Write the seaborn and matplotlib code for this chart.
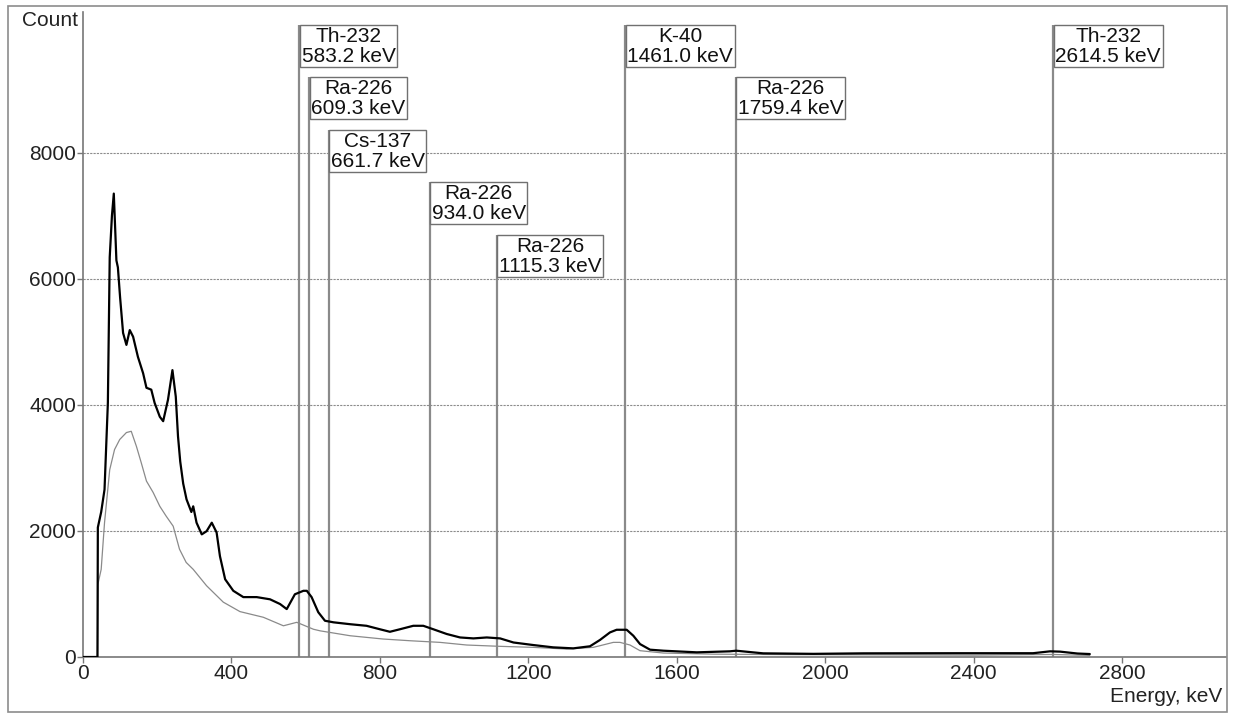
import matplotlib
matplotlib.use("Agg")
import matplotlib.pyplot as plt
import matplotlib.patches as mpatches
import seaborn as sns
import pandas as pd

# ---- data ----
black_energy = [0, 39, 40, 49, 58, 67, 72, 78, 83, 86, 90, 94, 100, 108, 117, 126, 135, 148,
                162, 171, 184, 193, 207, 216, 229, 241, 250, 256, 262, 270, 279, 292, 297, 306,
                320, 333, 347, 360, 369, 383, 405, 432, 468, 504, 531, 549, 571, 594, 603, 616,
                634, 652, 675, 720, 764, 800, 827, 854, 890, 917, 944, 980, 1016, 1052, 1088,
                1124, 1160, 1213, 1267, 1321, 1366, 1393, 1420, 1438, 1465, 1483, 1501, 1528,
                1564, 1654, 1743, 1760, 1833, 1968, 2103, 2363, 2560, 2606, 2633, 2680, 2713]
black_counts = [0, 0, 2055, 2300, 2656, 4030, 6340, 7000, 7350, 6900, 6290, 6180, 5700, 5140,
                4950, 5185, 5080, 4760, 4500, 4270, 4240, 4030, 3810, 3740, 4080, 4550, 4130,
                3500, 3100, 2750, 2500, 2300, 2390, 2130, 1945, 1995, 2130, 1975, 1600, 1233,
                1050, 950, 950, 915, 840, 760, 995, 1050, 1050, 950, 710, 575, 550, 520, 495,
                440, 400, 440, 495, 495, 440, 365, 310, 295, 310, 295, 230, 190, 153, 137, 170,
                270, 390, 432, 432, 337, 205, 116, 100, 74, 90, 100, 58, 50, 58, 60, 60, 90, 85,
                55, 47]

gray_energy = [0, 39, 40, 49, 58, 72, 85, 99, 117, 130, 144, 157, 171, 189, 207, 224, 243, 260,
               278, 297, 333, 378, 423, 486, 540, 576, 621, 639, 720, 809, 881, 962, 1034, 1124,
               1213, 1303, 1375, 1393, 1429, 1447, 1474, 1501, 1564, 1700, 1900, 2100, 2400,
               2614, 2713]
gray_counts = [0, 0, 1150, 1390, 2130, 2970, 3290, 3450, 3560, 3580, 3340, 3080, 2790, 2610,
               2390, 2235, 2075, 1710, 1500, 1390, 1130, 870, 720, 630, 495, 550, 440, 415, 337,
               285, 258, 232, 190, 169, 153, 126, 153, 179, 232, 232, 190, 100, 63, 45, 38, 35,
               30, 40, 25]

peak_names = ["Th-232", "Ra-226", "Cs-137", "Ra-226", "Ra-226", "K-40", "Ra-226", "Th-232"]
peak_energies = [583.2, 609.3, 661.7, 934.0, 1115.3, 1461.0, 1759.4, 2614.5]
peak_label_tops = [10025, 9200, 8360, 7535, 6694, 10025, 9200, 10025]

x_ticks = [0, 400, 800, 1200, 1600, 2000, 2400, 2800]
y_ticks = [0, 2000, 4000, 6000, 8000]

# ---- figure ----
sns.set_theme(style="white")
plt.rcParams["font.family"] = ["Liberation Sans", "DejaVu Sans"]

W, H = 1234, 713
fig = plt.figure(figsize=(W / 100, H / 100), dpi=100)
ax = fig.add_axes([83 / W, 1 - 657 / H, (1226 - 83) / W, (657 - 12) / H])

black_df = pd.DataFrame({"Energy": black_energy, "Count": black_counts})
gray_df = pd.DataFrame({"Energy": gray_energy, "Count": gray_counts})

for e, yt in zip(peak_energies, peak_label_tops):
    ax.vlines(e, 0, yt, color="#8a8a8a", lw=1.6, zorder=2)

sns.lineplot(data=gray_df, x="Energy", y="Count", ax=ax, color="#8a8a8a", lw=0.9,
             estimator=None, sort=False, zorder=3)
sns.lineplot(data=black_df, x="Energy", y="Count", ax=ax, color="black", lw=1.6,
             estimator=None, sort=False, zorder=4)

for name, e, yt in zip(peak_names, peak_energies, peak_label_tops):
    ax.annotate(f"{name}\n{e:.1f} keV", xy=(e, yt), xytext=(1.5, -1.5),
                textcoords="offset points", ha="left", va="top", ma="center",
                fontsize=15, color="#111111", linespacing=1.05, zorder=6,
                bbox=dict(boxstyle="square,pad=0.08", fc="white", ec="#707070", lw=1))

ax.set_xlim(0, 3080)
ax.set_ylim(0, 10230)
ax.set_xticks(x_ticks)
ax.set_yticks(y_ticks)
ax.set_xticklabels([str(t) for t in x_ticks])
ax.set_yticklabels([str(t) for t in y_ticks])
ax.tick_params(axis="both", labelsize=15, colors="#222222", length=4, width=1,
               direction="out", pad=1, bottom=True, left=True)
ax.tick_params(axis="both", color="#777777")
ax.set_xlabel("")
ax.set_ylabel("")
ax.yaxis.grid(True, color="#8c8c8c", lw=0.8, ls=(0, (2, 1)))
ax.xaxis.grid(False)
ax.set_axisbelow(True)

for side in ["top", "right"]:
    ax.spines[side].set_visible(False)
for side in ["left", "bottom"]:
    ax.spines[side].set_color("#777777")
    ax.spines[side].set_linewidth(1.2)

fig.text(78 / W, 1 - 20 / H, "Count", ha="right", va="center", fontsize=15, color="#222222")
fig.text(1222 / W, 1 - 697 / H, "Energy, keV", ha="right", va="center", fontsize=15,
         color="#222222")

frame = mpatches.Rectangle((8 / W, 1 - 712 / H), (1227 - 8) / W, (712 - 6) / H,
                           transform=fig.transFigure, fill=False, ec="#8c8c8c", lw=1.2)
fig.patches.append(frame)

fig.savefig("out.png", dpi=100)
